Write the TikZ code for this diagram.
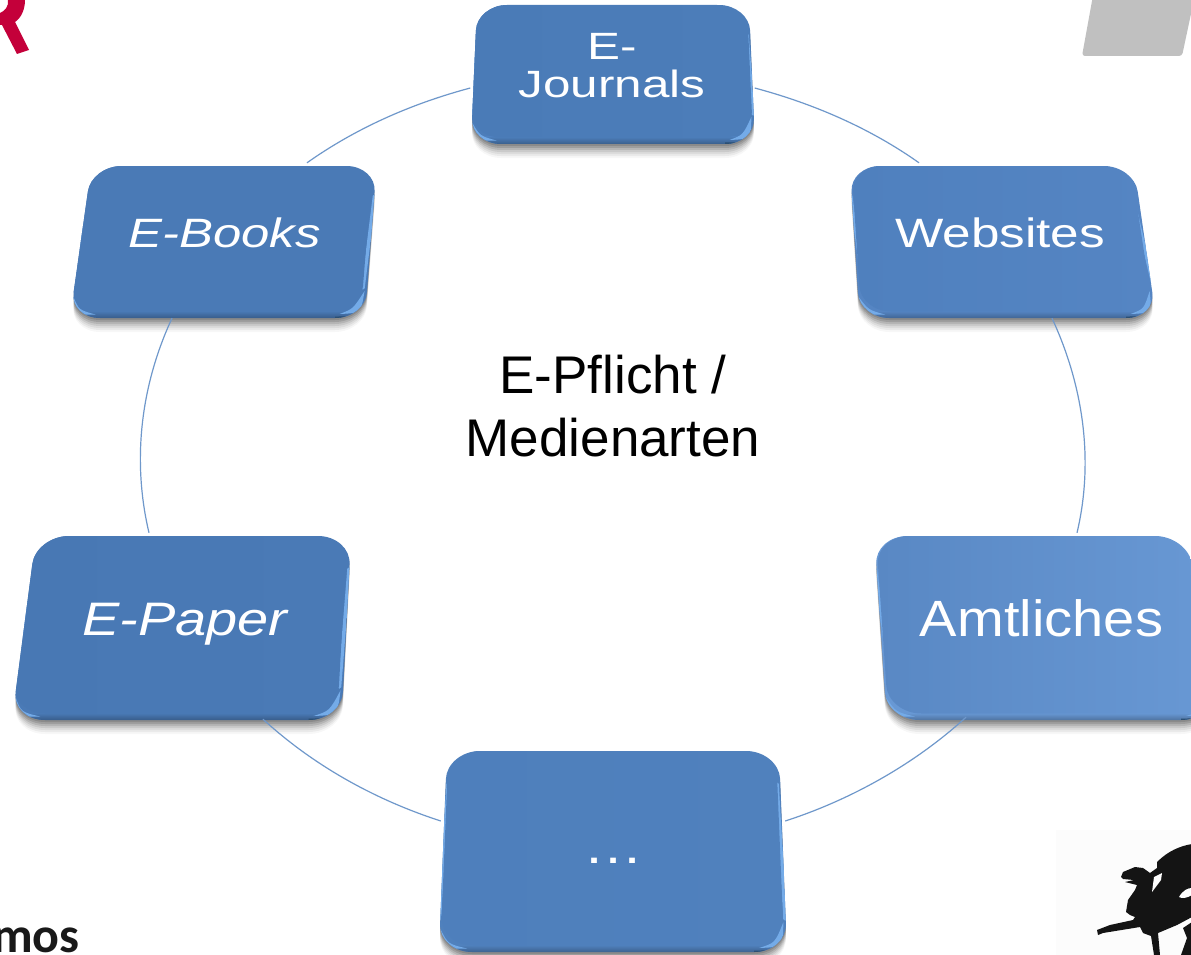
\documentclass[tikz,border=0pt]{standalone}
\usepackage{fontspec}
\usepackage{graphicx}
\setmainfont{Liberation Sans}
\newfontfamily\logofont{Carlito}
\definecolor{linkblue}{HTML}{6F98CB}
\definecolor{rimdark}{HTML}{2B4F73}
\definecolor{rimlight}{HTML}{74ABE8}
\definecolor{logored}{HTML}{C4003A}
\definecolor{logogray}{HTML}{C0C0C0}
\tikzset{
  link/.style={draw=linkblue,line width=1.2pt},
  boxlabel/.style={rectangle,inner sep=0pt,text=white,align=center},
  centerlabel/.style={inner sep=0pt,align=center,text=black,font=\fontsize{53}{63}\selectfont}
}
\newcommand{\softshape}[6]{%
  ({#1+\RX},#5) -- ({#2-\RX},#5)
  .. controls ({#2-.45*\RX},#5) and ({#2+(#3-#2)/(#6-#5)*.45*\RY},{#5+.45*\RY}) .. ({#2+(#3-#2)/(#6-#5)*\RY},{#5+\RY})
  -- ({#3-(#3-#2)/(#6-#5)*\RY},{#6-\RY})
  .. controls ({#3-(#3-#2)/(#6-#5)*.45*\RY},{#6-.45*\RY}) and ({#3-.45*\RX},#6) .. ({#3-\RX},#6)
  -- ({#4+\RX},#6)
  .. controls ({#4+.45*\RX},#6) and ({#4-(#4-#1)/(#6-#5)*.45*\RY},{#6-.45*\RY}) .. ({#4-(#4-#1)/(#6-#5)*\RY},{#6-\RY})
  -- ({#1+(#4-#1)/(#6-#5)*\RY},{#5+\RY})
  .. controls ({#1+(#4-#1)/(#6-#5)*.45*\RY},{#5+.45*\RY}) and ({#1+.45*\RX},#5) .. ({#1+\RX},#5) -- cycle}
% #1-#4 x of top-left, top-right, bottom-right, bottom-left; #5 top y; #6 bottom y; #7,#8 left/right colours; #9 horizontal corner radius
\newcommand{\glossybox}[9]{%
  \def\RX{#9}\pgfmathsetmacro\RY{.85*#9}%
  \definecolor{bodyl}{HTML}{#7}\definecolor{bodyr}{HTML}{#8}%
  \foreach \s/\o in {14/.03,12/.05,10/.06,8/.08,6/.1,4/.12,2/.12}{
    \pgfmathsetmacro\yta{#5+\s}\pgfmathsetmacro\yba{#6+\s}%
    \fill[black,opacity=\o] \softshape{#1}{#2}{#3}{#4}{\yta}{\yba};
  }
  \pgfmathsetmacro\xbb{#2-\rightinset}\pgfmathsetmacro\xcb{#3-\rightinset}%
  \pgfmathsetmacro\xab{#1+\leftinset}\pgfmathsetmacro\xdb{#4+\leftinset}\pgfmathsetmacro\ybb{#6-6.5}%
  \begin{scope}
    \clip \softshape{#1}{#2}{#3}{#4}{#5}{#6};
    \fill[bodyr] (-20,#5) rectangle (1300,#6);
    \shade[top color=bodyr,bottom color=bodyr!76!black] (-20,{#6-7}) rectangle (1300,#6);
    \draw[rimlight,line width=3.5pt,line cap=round] ({#2-2},{#5+#9}) -- ({#3-2},{#6-#9});
    \draw[rimlight,line width=3pt,line cap=round] ({#1+1},{#5+#9}) -- ({#4+2+(#4-#1)/(#6-#5)*#9},{#6-#9});
    \draw[rimdark,line width=3pt] ({#3-(#3-#2)/(#6-#5)*#9*.4},{#6-#9*.4}) .. controls ({#3-1},{#6}) .. ({#3-#9},{#6});
    \shade[left color=bodyl,right color=bodyr] \softshape{\xab}{\xbb}{\xcb}{\xdb}{#5}{\ybb};
    % light crescents at the two lower corners
    \fill[rimlight] ({#4+.5-(#4-#1)/(#6-#5)*#9*.7},{#6-#9*.7}) .. controls ({#4+1},{#6-3}) .. ({#4+#9*.85},{#6-3.5}) .. controls ({#4+9},{#6-8}) .. cycle;
    \fill[rimlight] ({#3-2.5-(#3-#2)/(#6-#5)*#9*.9},{#6-#9*.9}) .. controls ({#3-4},{#6-5}) .. ({#3-#9*.85},{#6-4}) .. controls ({#3-12},{#6-9}) .. cycle;
  \end{scope}
}
\newcommand{\stretched}[2]{\scalebox{#1}[1]{#2}}
\begin{document}
\begin{tikzpicture}[x=1pt,y=-1pt]
\useasboundingbox (0,0) rectangle (1191,955);
\clip (0,0) rectangle (1191,955);
\fill[white] (0,0) rectangle (1191,955);

% logo fragments
\fill[logored] (8,0) .. controls (9,6) and (5,11) .. (0,13) -- (0,25) -- (2,25) -- (17,54) -- (29,50) -- (15,22) .. controls (21,18) and (25,10) .. (25,0) -- cycle;
\fill[logogray,rounded corners=3pt] (1094,-10) -- (1082,56) -- (1182,56) -- (1195,-5) -- cycle;
\fill[white!99!black] (1056,830) rectangle (1191,955);
\fill[black!92] (1157,862) .. controls (1168,851) and (1180,846) .. (1192,844) -- (1192,917) -- (1177,925) -- (1158,933) -- (1160,955) -- (1154,955) -- (1151,936) -- (1143,933) -- (1140,927)
  -- (1103,933) -- (1098,935) -- (1097,930) -- (1110,925) -- (1133,920) -- (1135,917) -- (1130,915) -- (1126,912) -- (1128,900) -- (1135,890) -- (1137,885) -- (1125,882) -- (1134,880) -- (1123,879)
  -- (1121,877) -- (1123,872) -- (1135,867) -- (1143,868) -- (1150,873) -- (1157,868) -- cycle;
\fill[black!92] (1192,922) -- (1183,928) -- (1187,938) -- (1181,955) -- (1192,955) -- cycle;
\fill[white] (1152,892) -- (1154,877) -- (1162,873) -- (1161,880) -- cycle;
\fill[white] (1179,897) .. controls (1183,890) and (1188,888) .. (1192,888) -- (1192,895) .. controls (1187,898) and (1182,899) .. (1179,897) -- cycle;
\node[font=\logofont\bfseries\fontsize{50}{50}\selectfont,text=black!90,anchor=base east,inner sep=0pt] (logotext) at (80,952) {mos};

% boxes
\def\leftinset{0}\def\rightinset{2}
\glossybox{477}{749}{755}{471}{5}{144}{4A7BB7}{4C7DB9}{30}
\def\rightinset{4}
\glossybox{91.5}{376.5}{365}{70}{166}{318}{4A7AB6}{4A7AB6}{30}
\glossybox{36}{351}{341.5}{12}{536}{720}{4878B4}{4A7AB6}{33}
\def\leftinset{1.5}\def\rightinset{3}
\glossybox{850}{1134}{1156}{859.5}{166}{318}{4F80BE}{5585C3}{30}
\glossybox{874.5}{1188}{1214}{886.7}{536}{720}{5988C4}{6898D4}{33}
\glossybox{447}{779}{787}{439}{751}{952}{4E7FBC}{5081BD}{33}

\node[boxlabel,minimum width=282pt,minimum height=139pt] (journals) at (612,75.5)
  {\raisebox{-22.5pt}[0pt][0pt]{\stretched{1.3}{\parbox[b]{200pt}{\centering\fontsize{38}{38}\selectfont E-\\Journals}}}};
\node[boxlabel,minimum width=303pt,minimum height=152pt,font=\fontsize{41}{42}\selectfont] (books) at (224.5,242)
  {\raisebox{-5pt}[0pt][0pt]{\stretched{1.24}{\itshape E-Books}}};
\node[boxlabel,minimum width=300pt,minimum height=152pt,font=\fontsize{41}{42}\selectfont] (websites) at (1002,242)
  {\raisebox{-5pt}[0pt][0pt]{\hspace{-4pt}\stretched{1.25}{Websites}}};
\node[boxlabel,minimum width=336pt,minimum height=184pt,font=\fontsize{47}{50}\selectfont] (paper) at (183,628)
  {\raisebox{-7pt}[0pt][0pt]{\hspace{4pt}\stretched{1.19}{\itshape E-Paper}}};
\node[boxlabel,minimum width=337pt,minimum height=184pt,font=\fontsize{51}{54}\selectfont] (amtl) at (1045.5,628)
  {\raisebox{-8pt}[0pt][0pt]{\hspace{-8pt}\stretched{1.1}{Amtliches}}};
\node[boxlabel,minimum width=345pt,minimum height=201pt,font=\fontsize{50}{54}\selectfont] (more) at (613.5,851.5)
  {\raisebox{-12pt}[0pt][0pt]{\stretched{1.2}{…}}};

\node[centerlabel] (center) at (613,406) {E-Pflicht /\\Medienarten};

% ring connectors
\draw[link] ([shift={(-0.5,12.5)}]journals.west) .. controls +(-60,16) and +(48,-34) .. ([shift={(82.5,-3)}]books.north);
\draw[link] ([shift={(1.5,12.5)}]journals.east) .. controls +(60,16) and +(-48,-34) .. ([shift={(-83,-3)}]websites.north);
\draw[link] ([shift={(-52.5,0)}]books.south) .. controls +(-31.6,68.2) and +(-17,-71.7) .. ([shift={(-34,-3)}]paper.north);
\draw[link] ([shift={(50,0)}]websites.south) .. controls +(31.6,68.2) and +(17,-71.7) .. ([shift={(31.5,-3)}]amtl.north);
\draw[link] ([shift={(80,-1)}]paper.south) .. controls +(49,45) and +(-68,-22) .. ([shift={(0,-30.5)}]more.west);
\draw[link] ([shift={(-79.5,-3)}]amtl.south) .. controls +(-49,45) and +(68,-22) .. ([shift={(-1,-30.5)}]more.east);
\end{tikzpicture}
\end{document}
